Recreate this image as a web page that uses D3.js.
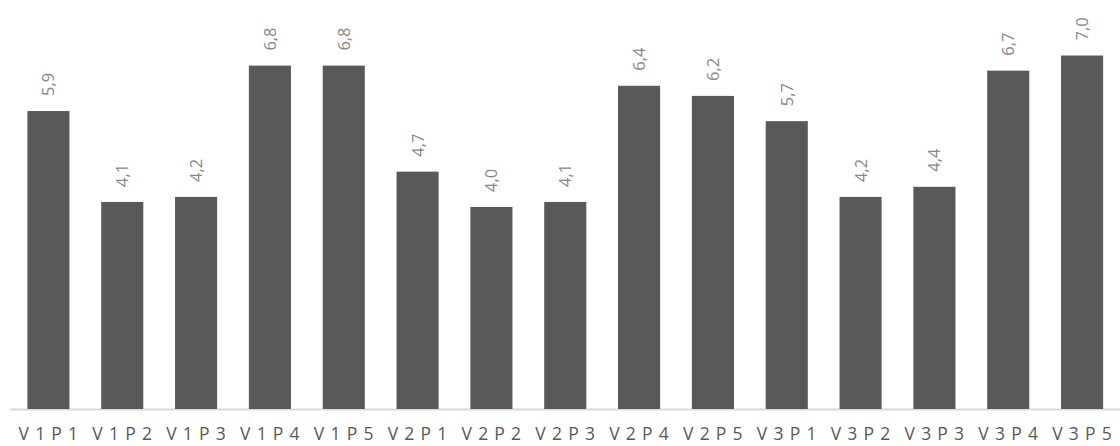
<!DOCTYPE html>
<html><head><meta charset="utf-8">
<script src="https://cdn.jsdelivr.net/npm/d3@7"></script>
<style>body{margin:0;background:#fff}svg{display:block}</style>
</head><body><svg id="c" width="1120" height="446"></svg>
<script>
const categories = ["V1P1","V1P2","V1P3","V1P4","V1P5","V2P1","V2P2","V2P3","V2P4","V2P5","V3P1","V3P2","V3P3","V3P4","V3P5"];
const values = [5.9,4.1,4.2,6.8,6.8,4.7,4.0,4.1,6.4,6.2,5.7,4.2,4.4,6.7,7.0];
const valueLabels = ["5,9","4,1","4,2","6,8","6,8","4,7","4,0","4,1","6,4","6,2","5,7","4,2","4,4","6,7","7,0"];

const svg = d3.select("#c");
const x = d3.scaleBand().domain(categories).range([11.5, 1119]).paddingInner(0.43).paddingOuter(0.215);
const y = d3.scaleLinear().domain([0, 8]).range([409, 5]);

svg.append("line").attr("x1", 10).attr("x2", 1120).attr("y1", y(0)+0.5).attr("y2", y(0)+0.5)
  .attr("stroke", "#d9d9d9").attr("stroke-width", 2);

svg.selectAll("rect.bar").data(values).join("rect").attr("class","bar")
  .attr("x", (d,i)=>x(categories[i])).attr("width", x.bandwidth())
  .attr("y", d=>y(d)).attr("height", d=>y(0)-y(d)).attr("fill", "#595959");

svg.selectAll("text.val").data(values).join("text").attr("class","val")
  .attr("transform", (d,i)=>`translate(${x(categories[i])+x.bandwidth()/2+6},${y(d)-15}) rotate(-90)`)
  .attr("text-anchor","start").attr("font-family","'Open Sans', sans-serif").attr("font-size",16.5)
  .attr("fill","#888888").text((d,i)=>valueLabels[i]);

svg.selectAll("text.cat").data(categories).join("text").attr("class","cat")
  .attr("x", d=>x(d)+x.bandwidth()/2+3).attr("y", 440)
  .attr("text-anchor","middle").attr("font-family","'Open Sans', sans-serif").attr("font-size",17.5)
  .attr("letter-spacing", "6.2px")
  .attr("fill","#595959").text(d=>d);
</script></body></html>
